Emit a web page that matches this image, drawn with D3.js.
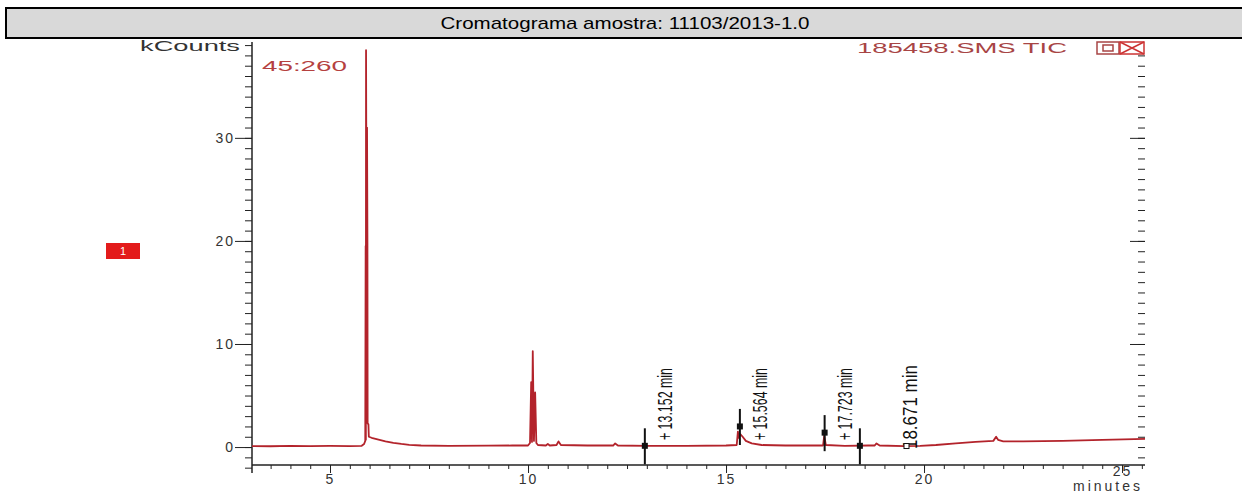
<!DOCTYPE html>
<html lang="pt">
<head>
    <meta charset="UTF-8">
    <title>Cromatograma</title>
    <script src="https://cdn.jsdelivr.net/npm/d3@7/dist/d3.min.js"></script>
    <style>
        body { margin: 0; background: #fff; }
        text { font-family: "Liberation Sans", Arial, sans-serif; }
        .axis path, .axis line { stroke: #222; }
        .axis text { fill: #333; font-size: 14px; letter-spacing: 2px; }
    </style>
</head>
<body>
<div id="chart"></div>

<script>
    // trace (minutes, kCounts)
    const times = [3.03, 3.5, 4.0, 4.5, 5.0, 5.5, 5.80, 5.86, 5.89, 5.90, 5.905, 5.91, 5.915, 5.925, 5.935, 5.945,
        5.95, 5.97, 5.98, 6.05, 6.2, 6.4, 6.6, 6.8, 7.0, 7.3, 8.0, 9.0, 9.6, 10.0, 10.05, 10.08, 10.1, 10.12,
        10.15, 10.18, 10.21, 10.25, 10.45, 10.5, 10.55, 10.72, 10.77, 10.83, 11.5, 12.15, 12.2, 12.27, 13.0, 14.0,
        15.0, 15.27, 15.3, 15.32, 15.36, 15.42, 15.5, 15.65, 15.9, 16.5, 17.45, 17.48, 17.52, 18.0, 18.6, 18.75,
        18.8, 18.88, 19.5, 19.9, 20.3, 20.8, 21.3, 21.75, 21.82, 21.87, 22.0, 22.5, 23.5, 24.5, 25.58];
    const kcounts = [0.10, 0.08, 0.12, 0.10, 0.12, 0.10, 0.12, 0.3, 0.6, 19.5, 0.7, 38.5, 31.5, 19.6, 31.0, 19.8,
        2.3, 2.2, 1.0, 0.9, 0.75, 0.55, 0.4, 0.3, 0.22, 0.15, 0.12, 0.14, 0.15, 0.15, 0.4, 6.3, 0.5, 9.3,
        0.6, 5.3, 0.4, 0.2, 0.15, 0.3, 0.15, 0.2, 0.55, 0.2, 0.15, 0.15, 0.35, 0.15, 0.12, 0.12,
        0.15, 0.2, 1.5, 0.9, 1.25, 1.0, 0.6, 0.35, 0.2, 0.15, 0.15, 1.1, 0.2, 0.12, 0.15, 0.15,
        0.35, 0.15, 0.1, 0.12, 0.2, 0.35, 0.5, 0.6, 1.0, 0.7, 0.55, 0.55, 0.6, 0.7, 0.8];

    // peak marks
    const markTimes = [12.95, 15.35, 17.49, 18.38];
    const markValues = [0.12, 2.0, 1.4, 0.12];
    const markLabels = ["+ 13.152 min", "+ 15.564 min", "+ 17.723 min", "18.671 min"];
    const openMarkTime = 19.57;

    const xMajor = [5, 10, 15, 20, 25];
    const yMajor = [0, 10, 20, 30];

    const width = 1242, height = 495;

    const svg = d3.select("#chart").append("svg")
        .attr("width", width)
        .attr("height", height);

    svg.append("rect").attr("width", width).attr("height", height).attr("fill", "#fff");

    // title bar
    svg.append("rect")
        .attr("x", 6).attr("y", 8).attr("width", 1245).attr("height", 30)
        .attr("fill", "#d9d9d9").attr("stroke", "#000").attr("stroke-width", 2);
    svg.append("text")
        .attr("x", 625).attr("y", 29)
        .attr("text-anchor", "middle")
        .attr("font-size", 17)
        .attr("textLength", 369).attr("lengthAdjust", "spacingAndGlyphs")
        .attr("fill", "#000")
        .text("Cromatograma amostra: 11103/2013-1.0");

    const x = d3.scaleLinear().domain([3.03, 25.58]).range([252, 1145]);
    const y = d3.scaleLinear().domain([-2.42, 39.3]).range([472, 42]);
    const X_AXIS_Y = 465;

    // left axis
    svg.append("g").attr("class", "axis").attr("transform", "translate(252,0)")
        .call(d3.axisLeft(y).tickValues(d3.range(-2, 40)).tickSize(7).tickSizeOuter(0).tickFormat(""))
        .call(g => g.select(".domain").remove());
    svg.append("g").attr("class", "axis").attr("transform", "translate(252,0)")
        .call(d3.axisLeft(y).tickValues(yMajor).tickSize(17).tickPadding(0).tickFormat(d3.format("d")))
        .call(g => g.select(".domain").remove());
    svg.append("line").attr("x1", 252).attr("x2", 252).attr("y1", 42).attr("y2", 473)
        .attr("stroke", "#222").attr("stroke-width", 1.5);

    // right axis ticks
    svg.append("g").attr("class", "axis").attr("transform", "translate(1145,0)")
        .call(d3.axisLeft(y).tickValues(d3.range(-1, 39)).tickSize(7).tickFormat(""))
        .call(g => g.select(".domain").remove());
    svg.append("g").attr("class", "axis").attr("transform", "translate(1145,0)")
        .call(d3.axisLeft(y).tickValues(yMajor.slice(1)).tickSize(15).tickFormat(""))
        .call(g => g.select(".domain").remove());

    // bottom axis
    svg.append("g").attr("class", "axis").attr("transform", `translate(0,${X_AXIS_Y})`)
        .call(d3.axisBottom(x).tickValues(d3.range(3.5, 25.6, 0.5)).tickSize(4).tickFormat(""))
        .call(g => g.select(".domain").remove());
    svg.append("g").attr("class", "axis").attr("transform", `translate(0,${X_AXIS_Y})`)
        .call(d3.axisBottom(x).tickValues(xMajor).tickSize(8).tickPadding(1).tickFormat(d3.format("d")))
        .call(g => g.select(".domain").remove())
        .call(g => g.selectAll("text").filter(d => d === 25).attr("y", 1));
    svg.append("line").attr("x1", 252).attr("x2", 1145).attr("y1", X_AXIS_Y).attr("y2", X_AXIS_Y)
        .attr("stroke", "#222").attr("stroke-width", 1.5);

    svg.append("text").attr("x", 1073).attr("y", 491)
        .attr("font-size", 14).attr("fill", "#333")
        .attr("textLength", 67).attr("lengthAdjust", "spacing")
        .text("minutes");
    svg.append("text").attr("x", 140).attr("y", 51)
        .attr("font-size", 14).attr("fill", "#333")
        .attr("textLength", 100).attr("lengthAdjust", "spacingAndGlyphs")
        .text("kCounts");

    // header texts in the plot
    svg.append("text").attr("x", 262).attr("y", 71)
        .attr("font-size", 15).attr("fill", "#b5413f")
        .attr("textLength", 85).attr("lengthAdjust", "spacingAndGlyphs")
        .text("45:260");
    svg.append("text").attr("x", 857).attr("y", 53)
        .attr("font-size", 14).attr("fill", "#a84545")
        .attr("textLength", 210).attr("lengthAdjust", "spacingAndGlyphs")
        .text("185458.SMS TIC");
    const icons = svg.append("g").attr("fill", "none").attr("stroke", "#a84545").attr("stroke-width", 1.5);
    icons.append("rect").attr("x", 1097).attr("y", 42).attr("width", 22).attr("height", 12);
    icons.append("rect").attr("x", 1103).attr("y", 45).attr("width", 10).attr("height", 6);
    icons.append("rect").attr("x", 1120).attr("y", 42).attr("width", 24).attr("height", 12).attr("stroke", "#c33");
    icons.append("path").attr("d", "M1120,42L1144,54M1144,42L1120,54").attr("stroke", "#c33");

    // red channel box
    svg.append("rect").attr("x", 106).attr("y", 243).attr("width", 34).attr("height", 16).attr("fill", "#e31b1b");
    svg.append("text").attr("x", 123).attr("y", 255).attr("text-anchor", "middle")
        .attr("font-size", 11).attr("fill", "#fff").text("1");

    // trace
    const pts = times.map((t, i) => [t, kcounts[i]]);
    const line = d3.line().x(d => x(d[0])).y(d => y(d[1]));
    svg.append("path").datum(pts)
        .attr("d", line)
        .attr("fill", "none")
        .attr("stroke", "#b3232b")
        .attr("stroke-width", 1.8)
        .attr("stroke-linejoin", "round");

    // peak marks
    const labelShift = [27, 27, 27, 57];
    const marks = svg.append("g");
    markTimes.forEach((t, i) => {
        const cx = x(t), cy = y(markValues[i]);
        marks.append("line").attr("x1", cx).attr("x2", cx)
            .attr("y1", y(markValues[i] + 1.7)).attr("y2", y(markValues[i] - 1.8))
            .attr("stroke", "#111").attr("stroke-width", 2);
        marks.append("rect").attr("x", cx - 3).attr("y", cy - 3).attr("width", 6).attr("height", 6).attr("fill", "#111");
        const lx = cx + labelShift[i], ly = y(0) - (i === 3 ? -2 : 7);
        marks.append("text")
            .attr("transform", `translate(${lx},${ly}) rotate(-90)`)
            .attr("font-size", 21).attr("fill", "#111")
            .attr("textLength", i === 3 ? 84 : 72).attr("lengthAdjust", "spacingAndGlyphs")
            .text(markLabels[i]);
    });
    marks.append("rect").attr("x", x(openMarkTime) - 3).attr("y", y(0.1) - 2.5)
        .attr("width", 5).attr("height", 5).attr("fill", "#fff").attr("stroke", "#111");
</script>
</body>
</html>
